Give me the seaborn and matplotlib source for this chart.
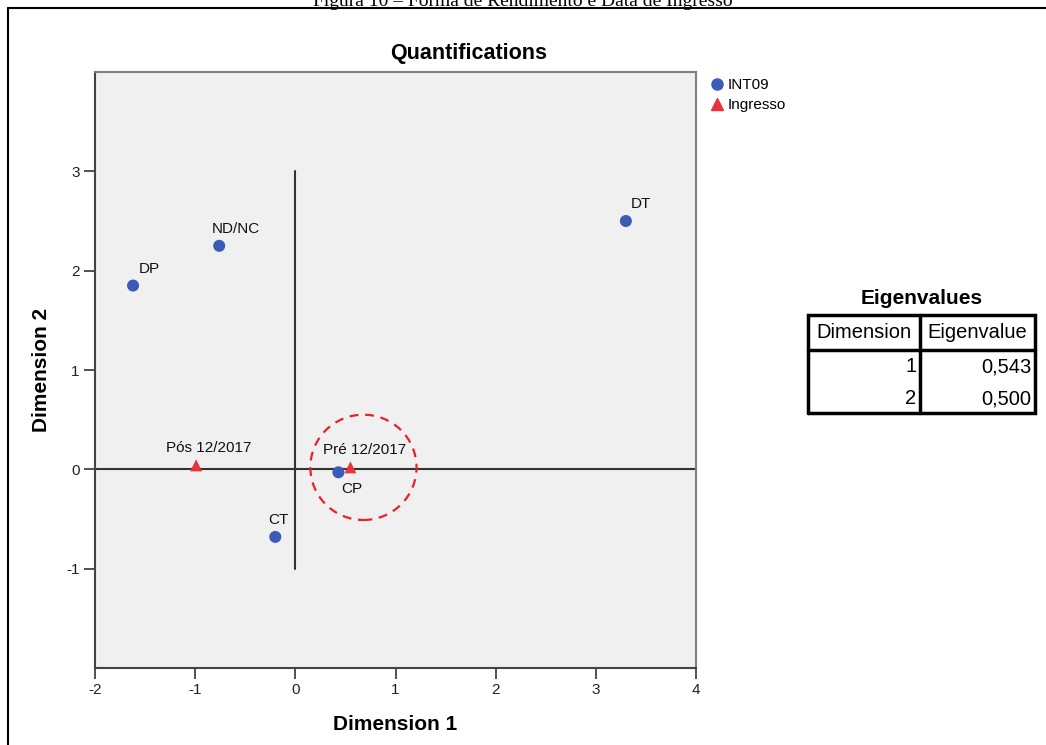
import numpy as np
import pandas as pd
import matplotlib
matplotlib.use("Agg")
import matplotlib.pyplot as plt
import seaborn as sns
from matplotlib.patches import Circle
from matplotlib.lines import Line2D

# category points (INT09) and supplementary points (Ingresso)
int09_labels = ["DP", "ND/NC", "DT", "CP", "CT"]
int09_dim1 = [-1.62, -0.76, 3.30, 0.43, -0.20]
int09_dim2 = [1.85, 2.25, 2.50, -0.03, -0.68]

ingresso_labels = ["Pós 12/2017", "Pré 12/2017"]
ingresso_dim1 = [-0.99, 0.55]
ingresso_dim2 = [0.04, 0.02]

eig_dims = ["1", "2"]
eig_values = ["0,543", "0,500"]

df = pd.DataFrame({
    "Dimension 1": int09_dim1 + ingresso_dim1,
    "Dimension 2": int09_dim2 + ingresso_dim2,
    "label": int09_labels + ingresso_labels,
    "group": ["INT09"] * len(int09_labels) + ["Ingresso"] * len(ingresso_labels),
})

sns.set_style("ticks")
plt.rcParams["font.family"] = ["Liberation Sans", "DejaVu Sans"]
plt.rcParams["axes.unicode_minus"] = False
plt.rcParams["text.color"] = "black"
plt.rcParams["axes.labelcolor"] = "black"
plt.rcParams["xtick.labelcolor"] = "#222222"
plt.rcParams["ytick.labelcolor"] = "#222222"

W, H = 1046, 745
fig = plt.figure(figsize=(W / 100, H / 100), dpi=100)
ax = fig.add_axes([95 / W, 1 - 668 / H, (696 - 95) / W, (668 - 72) / H])
ax.set_facecolor("#f0f0f0")

sns.scatterplot(data=df, x="Dimension 1", y="Dimension 2", hue="group", style="group",
                palette={"INT09": "#3a5bb8", "Ingresso": "#e8333a"},
                markers={"INT09": "o", "Ingresso": "^"}, s=75, linewidth=0,
                ax=ax, zorder=3, legend=False)

# reference lines
ax.plot([0, 0], [-1, 3], color="#333333", lw=1.5, zorder=2)
ax.axhline(0, color="#333333", lw=1.5, zorder=2)

# highlighted area
ax.add_patch(Circle((0.68, 0.02), 0.53, fill=False, ec="#e8202a", lw=1.6,
                    ls=(0, (4, 3)), zorder=4))

# point labels
offsets = {"DP": (0.06, 0.1), "ND/NC": (-0.07, 0.1), "DT": (0.05, 0.1),
           "CP": (0.03, -0.1), "CT": (-0.07, 0.1),
           "Pós 12/2017": (-0.3, 0.1), "Pré 12/2017": (-0.27, 0.1)}
for _, r in df.iterrows():
    dx, dy = offsets[r["label"]]
    ax.text(r["Dimension 1"] + dx, r["Dimension 2"] + dy, r["label"], fontsize=11,
            ha="left", va="bottom" if dy > 0 else "top", color="#111111", zorder=5)

ax.set_xlim(-2, 4)
ax.set_ylim(-2, 4)
ax.set_xticks(range(-2, 5))
ax.set_yticks(range(-1, 4))
ax.tick_params(axis="both", length=8, width=1.2, color="#333333", labelsize=11, pad=3)
for side in ["top", "right"]:
    ax.spines[side].set_visible(True)
    ax.spines[side].set_color("#808080")
    ax.spines[side].set_linewidth(1.5)
for side in ["left", "bottom"]:
    ax.spines[side].set_color("#444444")
    ax.spines[side].set_linewidth(1.5)
ax.set_xlabel("Dimension 1", fontsize=15, fontweight="bold", labelpad=13)
ax.set_ylabel("Dimension 2", fontsize=15, fontweight="bold", labelpad=11)

fig.text(469 / W, 1 - 54 / H, "Quantifications", fontsize=15.5, fontweight="bold",
         ha="center", va="center")

# legend
handles = [Line2D([], [], marker="o", ls="", color="#3a5bb8", markersize=8),
           Line2D([], [], marker="^", ls="", color="#e8333a", markersize=8)]
fig.legend(handles, ["INT09", "Ingresso"], loc="upper left",
           bbox_to_anchor=(702 / W, 1 - 72 / H), frameon=False, fontsize=11,
           handletextpad=0.1, borderaxespad=0, labelspacing=0.4, handlelength=1.2)

# eigenvalues table
tx0, tx1, ty0, ty1 = 808, 1035, 315, 413
tax = fig.add_axes([tx0 / W, 1 - ty1 / H, (tx1 - tx0) / W, (ty1 - ty0) / H])
tax.set_xlim(0, 1)
tax.set_ylim(0, 1)
tax.axis("off")
split_x = (920 - tx0) / (tx1 - tx0)
head_y = (ty1 - 350) / (ty1 - ty0)
lw = 2.5
tax.plot([0, 1, 1, 0, 0], [0, 0, 1, 1, 0], color="black", lw=lw, clip_on=False,
         solid_joinstyle="miter")
tax.plot([split_x, split_x], [0, 1], color="black", lw=lw, clip_on=False)
tax.plot([0, 1], [head_y, head_y], color="black", lw=lw, clip_on=False)
tfs = 14.5
tax.text(split_x / 2, (1 + head_y) / 2, "Dimension", fontsize=tfs, ha="center", va="center")
tax.text((1 + split_x) / 2, (1 + head_y) / 2, "Eigenvalue", fontsize=tfs, ha="center", va="center")
row_y = [(ty1 - 367) / (ty1 - ty0), (ty1 - 399) / (ty1 - ty0)]
for d, v, yy in zip(eig_dims, eig_values, row_y):
    tax.text(split_x - 0.015, yy, d, fontsize=tfs, ha="right", va="center")
    tax.text(0.985, yy, v, fontsize=tfs, ha="right", va="center")
fig.text((tx0 + tx1) / 2 / W, 1 - 298 / H, "Eigenvalues", fontsize=15, fontweight="bold",
         ha="center", va="center")

# page frame and clipped caption above it
fig.add_artist(Line2D([8 / W, 1], [1 - 8 / H, 1 - 8 / H], color="black", lw=1.5))
fig.add_artist(Line2D([8 / W, 8 / W], [0, 1 - 8 / H], color="black", lw=1.5))
fig.text(0.5, 1 - 1 / H, "Figura 10 – Forma de Rendimento e Data de Ingresso",
         family=["Liberation Serif"], fontsize=14, ha="center", va="center")

fig.savefig("out.png", dpi=100)
